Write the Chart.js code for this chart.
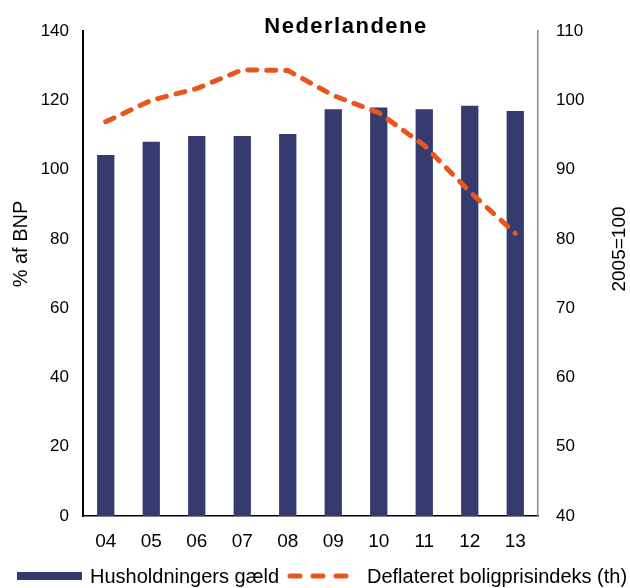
<!DOCTYPE html>
<html><head><meta charset="utf-8">
<script src="https://cdn.jsdelivr.net/npm/chart.js@4"></script>
<style>html,body{margin:0;padding:0;background:#fff}#wrap{width:630px;height:588px}</style>
</head><body><div id="wrap"><canvas id="c" width="630" height="588"></canvas></div>
<script>
const categories = ['04','05','06','07','08','09','10','11','12','13'];
const debtValues = [104.2, 108.0, 109.7, 109.7, 110.3, 117.4, 117.9, 117.4, 118.4, 116.9];
const priceIndex = [96.9, 100.0, 101.7, 104.4, 104.3, 100.7, 98.2, 93.5, 86.8, 80.8];
const leftTicks = [0,20,40,60,80,100,120,140];
const rightTicks = [40,50,60,70,80,90,100,110];
const titleText = 'Nederlandene';
const leftTitle = '% af BNP';
const rightTitle = '2005=100';
const seriesNames = ['Husholdningers gæld','Deflateret boligprisindeks (th)'];

const BAR = '#353A6F', LINE = '#E8561E';
const FONT = '"Liberation Sans", Arial, sans-serif';

const deco = {
  id:'deco',
  afterDraw(chart){
    const ctx = chart.ctx;
    ctx.save();
    ctx.fillStyle = '#000';
    ctx.letterSpacing = '1.5px';
    ctx.font = 'bold 22px ' + FONT;
    ctx.textAlign = 'center'; ctx.textBaseline = 'alphabetic';
    ctx.fillText(titleText, 346, 33);
    ctx.letterSpacing = '0px';
    ctx.font = '20px ' + FONT;
    ctx.save(); ctx.translate(21, 244); ctx.rotate(-Math.PI/2);
    ctx.textAlign='center'; ctx.textBaseline='middle'; ctx.fillText(leftTitle,0,0); ctx.restore();
    ctx.font = '19px ' + FONT;
    ctx.save(); ctx.translate(620, 249); ctx.rotate(-Math.PI/2);
    ctx.textAlign='center'; ctx.textBaseline='middle'; ctx.fillText(rightTitle,0,0); ctx.restore();
    // legend
    ctx.font = '20px ' + FONT;
    ctx.fillStyle = BAR; ctx.fillRect(17, 572, 65, 8);
    ctx.fillStyle = '#000'; ctx.textAlign='left'; ctx.textBaseline='middle';
    ctx.fillText(seriesNames[0], 90, 577);
    ctx.strokeStyle = LINE; ctx.lineWidth = 5; ctx.lineCap='round'; ctx.setLineDash([10,13]);
    ctx.beginPath(); ctx.moveTo(290, 576); ctx.lineTo(352, 576); ctx.stroke();
    ctx.setLineDash([]);
    ctx.fillText(seriesNames[1], 367, 577);
    ctx.restore();
  }
};

new Chart(document.getElementById('c'), {
  data: {
    labels: categories,
    datasets: [
      {type:'line', label:seriesNames[1], data:priceIndex, yAxisID:'y2', borderColor:LINE, borderWidth:5,
       borderDash:[9,10], borderCapStyle:'round', pointRadius:0, tension:0, fill:false, order:0},
      {type:'bar', label:seriesNames[0], data:debtValues, yAxisID:'y', backgroundColor:BAR,
       categoryPercentage:1, barPercentage:0.38, order:1}
    ]
  },
  options: {
    responsive:false, animation:false, maintainAspectRatio:false,
    layout:{padding:{top:31,left:0,right:0,bottom:0}},
    plugins:{legend:{display:false}, title:{display:false}, tooltip:{enabled:false}},
    scales:{
      x:{grid:{display:false, drawTicks:false}, border:{color:'#000', width:1.5},
         ticks:{color:'#000', font:{family:FONT, size:19}, padding:14},
         afterFit(s){ s.height = 72; }},
      y:{position:'left', min:0, max:140, grid:{display:false, drawTicks:false},
         border:{color:'#000', width:2},
         afterBuildTicks(s){ s.ticks = leftTicks.map(v=>({value:v})); },
         ticks:{color:'#000', font:{family:FONT, size:17}, padding:14},
         afterFit(s){ s.width = 83; }},
      y2:{position:'right', min:40, max:110, grid:{display:false, drawTicks:false},
         border:{color:'#888', width:1.5},
         afterBuildTicks(s){ s.ticks = rightTicks.map(v=>({value:v})); },
         ticks:{color:'#000', font:{family:FONT, size:17}, padding:18},
         afterFit(s){ s.width = 92; }}
    }
  },
  plugins:[deco]
});
</script></body></html>
